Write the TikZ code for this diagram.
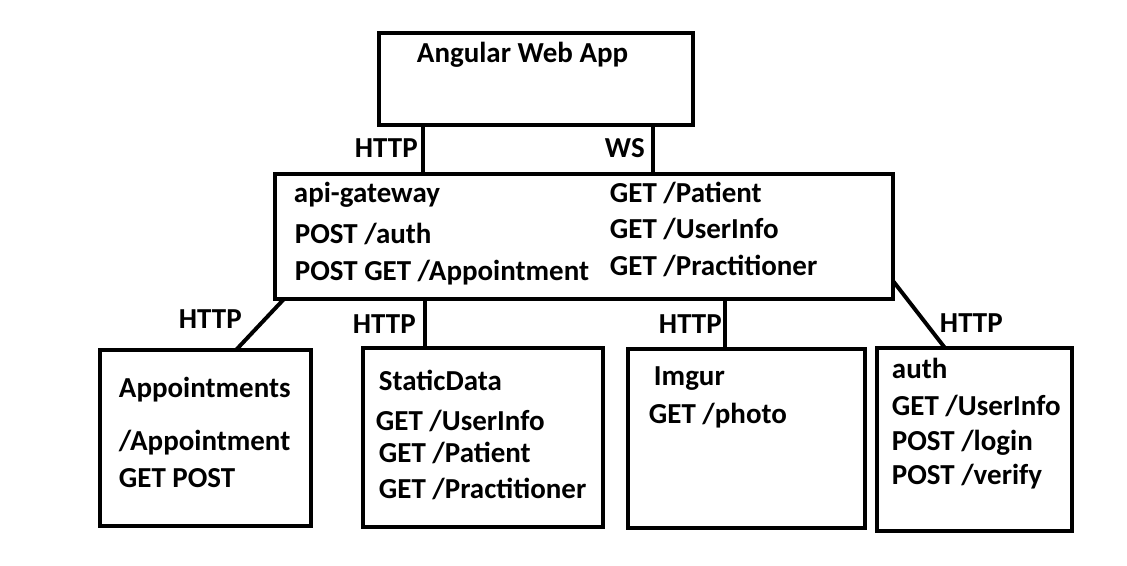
\documentclass[tikz,border=0pt]{standalone}
\usepackage{fontspec}
\setmainfont{Carlito}
\usepackage{tikz}

\begin{document}
\begin{tikzpicture}[x=0.025cm, y=-0.025cm, line width=2.8pt,
					every node/.style = {font=\fontsize{20.6}{24}\selectfont\bfseries}]

\tikzstyle{box}=[rectangle, draw, outer sep=0pt, inner sep=0pt]
\tikzstyle{txt}=[anchor=base west, inner sep=0pt]
\tikzstyle{proto}=[anchor=base west, inner sep=0pt]

\useasboundingbox (0,0) rectangle (1127,566);

\node[box, minimum width=7.85cm, minimum height=2.3cm] (web) at (536,79) {};
\node[box, minimum width=15.45cm, minimum height=3.125cm] (gw) at (584,236.5) {};
\node[box, minimum width=5.275cm, minimum height=4.4cm] (appts) at (205.5,438) {};
\node[box, minimum width=6cm, minimum height=4.475cm] (sdata) at (483,437.5) {};
\node[box, minimum width=5.925cm, minimum height=4.475cm] (imgur) at (746.5,438.5) {};
\node[box, minimum width=4.875cm, minimum height=4.575cm] (auth) at (974.5,439.5) {};

\node[txt] (webname) at (415,62) {Angular Web App};

\node[txt] (gwname) at (292,202) {api-gateway};
\node[txt] (gwauth) at (293,243) {POST /auth};
\node[txt] (gwappt) at (293,280) {POST GET /Appointment};
\node[txt] (gwpat) at (608,202) {GET /Patient};
\node[txt] (gwuser) at (608,238) {GET /UserInfo};
\node[txt] (gwprac) at (608,275) {GET /Practitioner};

\node[txt] (apptsname) at (117,397) {Appointments};
\node[txt] (apptsurl) at (117,450) {/Appointment};
\node[txt] (apptsverb) at (117,487) {GET POST};

\node[txt] (sdname) at (377,390) {StaticData};
\node[txt] (sduser) at (374,430) {GET /UserInfo};
\node[txt] (sdpat) at (377,462) {GET /Patient};
\node[txt] (sdprac) at (377,498) {GET /Practitioner};

\node[txt] (imgname) at (652,385) {Imgur};
\node[txt] (imgphoto) at (647,423) {GET /photo};

\node[txt] (authname) at (890,378) {auth};
\node[txt] (authuser) at (890,415) {GET /UserInfo};
\node[txt] (authlogin) at (890,450) {POST /login};
\node[txt] (authverify) at (890,484) {POST /verify};

\coordinate (xhttp) at (423,0);
\coordinate (xws) at (653,0);
\coordinate (xapA) at (284,0);
\coordinate (xapB) at (236,0);
\coordinate (xsd) at (425,0);
\coordinate (ximg) at (725,0);
\coordinate (yau) at (0,281);
\coordinate (xau) at (945,0);

\draw (web.south -| xhttp) -- (gw.north -| xhttp);
\draw (web.south -| xws) -- (gw.north -| xws);
\draw (gw.south -| xapA) -- (appts.north -| xapB);
\draw (gw.south -| xsd) -- (sdata.north -| xsd);
\draw (gw.south -| ximg) -- (imgur.north -| ximg);
\draw (gw.east |- yau) -- (auth.north -| xau);

\node[proto] (phttp) at (353,157) {HTTP};
\node[proto] (pws) at (603,157) {WS};
\node[proto] (papp) at (177,328) {HTTP};
\node[proto] (psd) at (351,333) {HTTP};
\node[proto] (pimg) at (657,333) {HTTP};
\node[proto] (pau) at (938,332) {HTTP};
\end{tikzpicture}
\end{document}
